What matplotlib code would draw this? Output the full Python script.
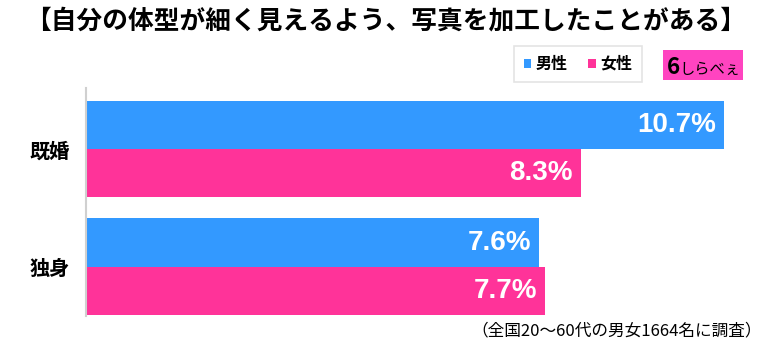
import matplotlib
matplotlib.use("Agg")
import matplotlib.pyplot as plt
from matplotlib.patches import Patch, Rectangle
from matplotlib import font_manager

categories = ["既婚", "独身"]
series_names = ["男性", "女性"]
male = [10.7, 7.6]
female = [8.3, 7.7]
title = "【自分の体型が細く見えるよう、写真を加工したことがある】"
note = "（全国20〜60代の男女1664名に調査）"

blue = "#3399ff"
pink = "#ff3399"

jp = ["Noto Sans CJK JP", "DejaVu Sans"]
plt.rcParams["font.family"] = jp

avail = {f.name for f in font_manager.fontManager.ttflist}
num_font = "Liberation Sans Narrow" if "Liberation Sans Narrow" in avail else "Liberation Sans"

W, H = 768, 352
fig = plt.figure(figsize=(W / 100, H / 100), dpi=100)

ax_left, ax_right = 86, 742
ax_top, ax_bot = 88, 316
ax = fig.add_axes([ax_left / W, 1 - ax_bot / H, (ax_right - ax_left) / W, (ax_bot - ax_top) / H])

ys = list(range(len(categories)))
h = 0.41
ax.barh([y - h / 2 for y in ys], male, height=h, color=blue, label=series_names[0])
ax.barh([y + h / 2 for y in ys], female, height=h, color=pink, label=series_names[1])

for y, v in zip(ys, male):
    ax.text(v - 0.14, y - h / 2, f"{v}%", ha="right", va="center", color="white",
            fontsize=20, fontweight="bold", family=num_font)
for y, v in zip(ys, female):
    ax.text(v - 0.14, y + h / 2, f"{v}%", ha="right", va="center", color="white",
            fontsize=20, fontweight="bold", family=num_font)

ax.set_xlim(0, 11.0)
ax.set_ylim(1.42, -0.52)
ax.set_yticks(ys)
ax.set_yticklabels(categories, fontsize=14.5, fontweight="bold")
ax.tick_params(axis="y", length=0, pad=12)
ax.set_xticks([])
for s in ["top", "right", "bottom"]:
    ax.spines[s].set_visible(False)
ax.spines["left"].set_color("#d0d0d0")
ax.spines["left"].set_linewidth(1.5)

fig.text(0.502, 1 - 21 / H, title, ha="center", va="center", fontsize=18.5, fontweight="bold")
fig.text(762 / W, 1 - 331 / H, note, ha="right", va="center", fontsize=12)

handles = [Patch(facecolor=blue, edgecolor="none"), Patch(facecolor=pink, edgecolor="none")]
leg = fig.legend(handles, series_names, loc="center", bbox_to_anchor=(578 / W, 1 - 64 / H),
                 ncol=2, frameon=True, handlelength=0.45, handleheight=0.45,
                 handletextpad=0.3, columnspacing=1.3, borderpad=0.6, fancybox=False,
                 borderaxespad=0,
                 prop={"family": jp, "weight": "bold", "size": 11.5})
leg.get_frame().set_edgecolor("#dddddd")
leg.get_frame().set_linewidth(1.2)

# logo
lx0, ly0, lw, lh = 663, 50, 80, 30
fig.patches.append(Rectangle((lx0 / W, 1 - (ly0 + lh) / H), lw / W, lh / H,
                             transform=fig.transFigure, facecolor="#ff44c0", edgecolor="none"))
fig.text((lx0 + 47) / W, 1 - (ly0 + 19) / H, "しらべぇ", ha="center", va="center",
         fontsize=11, color="black")
fig.text((lx0 + 10) / W, 1 - (ly0 + 17) / H, "6", ha="center", va="center",
         fontsize=16, color="black", fontweight="bold")

fig.savefig("out.png", dpi=100)
